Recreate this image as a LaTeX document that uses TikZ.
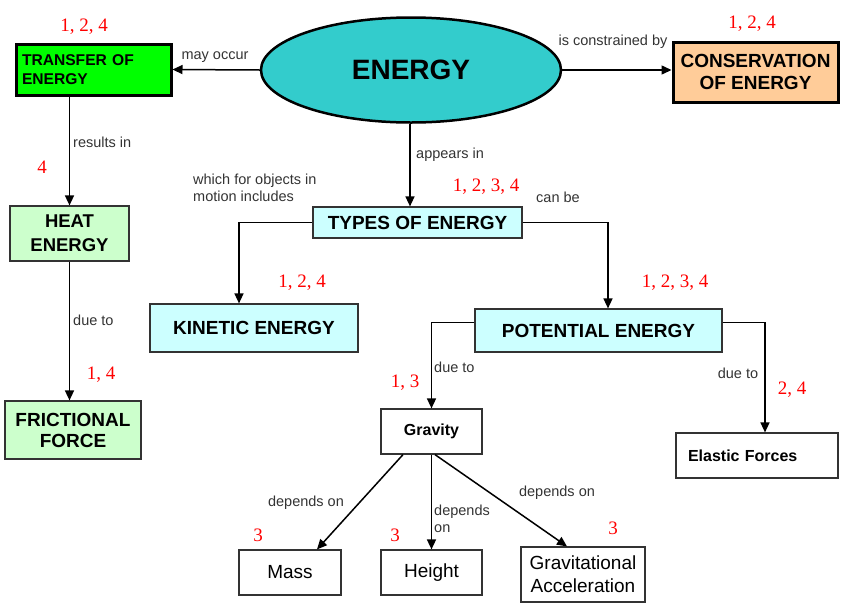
\documentclass[tikz,border=0pt]{standalone}
\usepackage{fontspec}
\setmainfont{Liberation Sans}
\newfontfamily\numfont{Liberation Serif}
\usepackage{tikz}
\usetikzlibrary{shapes.geometric, arrows.meta, positioning, calc}

\definecolor{energycyan}{HTML}{33CCCC}
\definecolor{transgreen}{HTML}{00FF00}
\definecolor{conspeach}{HTML}{FFCC99}
\definecolor{typecyan}{HTML}{CCFFFF}
\definecolor{heatgreen}{HTML}{CCFFCC}
\definecolor{labelgray}{HTML}{333333}

\begin{document}
\begin{tikzpicture}[x=1pt, y=-1pt,
    concept/.style={draw=black!80, line width=1.2pt, inner sep=0pt, align=center, font=\bfseries\fontsize{19}{23}\selectfont},
    thickbox/.style={concept, draw=black, line width=3pt},
    leaf/.style={draw=black!80, line width=1.2pt, inner sep=0pt, align=center, fill=white, font=\fontsize{19}{23}\selectfont},
    lbl/.style={font=\fontsize{14.5}{17}\selectfont, text=labelgray, inner sep=0pt, align=left},
    refs/.style={font=\numfont\fontsize{19}{22}\selectfont, text=red, inner sep=0pt},
    arr/.style={line width=1.5pt, -{Triangle[length=10pt,width=9pt]}},
]
\useasboundingbox (0,0) rectangle (845,611);
\node[draw=black, line width=2.5pt, ellipse, fill=energycyan, minimum width=300pt, minimum height=105pt, inner sep=0pt, font=\bfseries\fontsize{28}{32}\selectfont] (energy) at (411,70) {ENERGY};
\node[thickbox, fill=transgreen, minimum width=155pt, minimum height=51pt, text width=143pt, inner xsep=6pt, align=left, font=\bfseries\fontsize{15.6}{19}\selectfont] (transfer) at (93.5,69.5) {TRANSFER OF\\ENERGY};
\node[thickbox, fill=conspeach, minimum width=165pt, minimum height=60pt, font=\bfseries\fontsize{19}{22}\selectfont] (conserv) at (755.5,72) {CONSERVATION\\OF ENERGY};
\node[concept, fill=typecyan, minimum width=209pt, minimum height=31pt] (types) at (417.5,222.5) {TYPES OF ENERGY};
\node[concept, fill=typecyan, minimum width=208pt, minimum height=48pt] (kinetic) at (254,328) {KINETIC ENERGY};
\node[concept, fill=typecyan, minimum width=247pt, minimum height=43pt] (potential) at (598.5,330.5) {POTENTIAL ENERGY};
\node[concept, fill=heatgreen, minimum width=119pt, minimum height=55pt, font=\bfseries\fontsize{18.5}{24}\selectfont] (heat) at (69.5,233.5) {HEAT\\ENERGY};
\node[concept, fill=heatgreen, minimum width=136pt, minimum height=58pt, font=\bfseries\fontsize{19}{21}\selectfont] (friction) at (73,430) {FRICTIONAL\\FORCE};
\node[concept, fill=white, minimum width=101pt, minimum height=45pt, font=\bfseries\fontsize{16}{19}\selectfont] (gravity) at (431.5,431.5) {Gravity};
\node[concept, fill=white, minimum width=162pt, minimum height=45pt, text width=138pt, inner xsep=12pt, align=left, font=\bfseries\fontsize{16}{19}\selectfont] (elastic) at (757,455.5) {Elastic Forces};
\node[leaf, minimum width=102pt, minimum height=45pt] (mass) at (290,572.5) {Mass};
\node[leaf, minimum width=101pt, minimum height=45pt] (height) at (431.5,572.5) {Height};
\node[leaf, minimum width=124pt, minimum height=55pt] (gravacc) at (583,574.5) {Gravitational\\Acceleration};

\draw[arr] (energy.west) -- (transfer.east);
\draw[arr] (energy.east) -- (energy.east -| conserv.west);
\draw[arr] ([xshift=-1pt]energy.south) -- ([xshift=-1pt]energy.south |- types.north);
\draw[arr] (heat.north |- transfer.south) -- (heat.north);
\draw[arr] (heat.south) -- (heat.south |- friction.north);
\draw[arr] (types.west) -| ([xshift=-15pt]kinetic.north);
\draw[arr] (types.east) -| ([xshift=9.5pt]potential.north);
\draw[arr] ([yshift=8pt]potential.west) -| (gravity.north);
\draw[arr] ([yshift=8pt]potential.east) -| ([xshift=8pt]elastic.north);
\draw[arr] ([xshift=-28.5pt]gravity.south) -- ([xshift=27pt]mass.north);
\draw[arr] (gravity.south) -- (height.north);
\draw[arr] ([xshift=3.5pt]gravity.south) -- ([xshift=-16pt]gravacc.north);

\node[lbl] (lmay) at (215,57) {may occur};
\node[lbl] (lcons) at (613,42) {is constrained by};
\node[lbl, anchor=west] (lappears) at (416,155) {appears in};
\node[lbl, anchor=west] (lresults) at (73,142) {results in};
\node[lbl, anchor=west] (lmotion) at (193,187.5) {which for objects in\\motion includes};
\node[lbl] (lcan) at (558,197) {can be};
\node[lbl, anchor=west] (ldueheat) at (73,320) {due to};
\node[lbl, anchor=west] (lduegrav) at (434,367) {due to};
\node[lbl] (ldueelas) at (738,373) {due to};
\node[lbl] (ldepmass) at (306,503) {depends on};
\node[lbl, anchor=west] (ldepheight) at (434,518.5) {depends\\on};
\node[lbl] (ldepacc) at (557,493) {depends on};

\node[refs] (rtransfer) at (84,27) {1, 2, 4};
\node[refs] (rconserv) at (752,24) {1, 2, 4};
\node[refs] (rheat) at (42,167) {4};
\node[refs] (rtypes) at (486,187) {1, 2, 3, 4};
\node[refs] (rkinetic) at (302,283) {1, 2, 4};
\node[refs] (rpotential) at (675,283) {1, 2, 3, 4};
\node[refs] (rfriction) at (101,375) {1, 4};
\node[refs] (rgravity) at (405,383) {1, 3};
\node[refs] (relastic) at (792,390) {2, 4};
\node[refs] (rmass) at (258,535) {3};
\node[refs] (rheight) at (395,535) {3};
\node[refs] (racc) at (613,528) {3};
\end{tikzpicture}
\end{document}
